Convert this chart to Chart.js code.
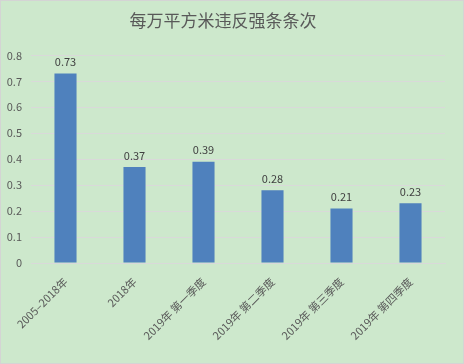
<!DOCTYPE html>
<html>
<head>
<meta charset="utf-8">
<script src="https://cdn.jsdelivr.net/npm/chart.js@4"></script>
<style>
  body { margin: 0; }
  #wrap {
    width: 464px; height: 364px; box-sizing: border-box;
    border: 1px solid #d4d4d4; background: #cde8cc;
  }
</style>
</head>
<body>
<div id="wrap"><canvas id="myChart" width="462" height="362"></canvas></div>
<script>
const categories = [
  '2005–2018年',
  '2018年',
  '2019年 第一季度',
  '2019年 第二季度',
  '2019年 第三季度',
  '2019年 第四季度'
];
const values = [0.73, 0.37, 0.39, 0.28, 0.21, 0.23];
const yTicks = [0, 0.1, 0.2, 0.3, 0.4, 0.5, 0.6, 0.7, 0.8];

const fontFamily = '"Noto Sans CJK SC", "Noto Sans", sans-serif';
const textColor = '#595959';

// value labels above each bar
const barLabels = {
  id: 'barLabels',
  afterDatasetsDraw(chart) {
    const ctx = chart.ctx;
    ctx.save();
    ctx.font = '11px ' + fontFamily;
    ctx.fillStyle = '#404040';
    ctx.textAlign = 'center';
    ctx.textBaseline = 'bottom';
    chart.getDatasetMeta(0).data.forEach((bar, i) => {
      ctx.fillText(values[i].toFixed(2), bar.x, bar.y - 6);
    });
    ctx.restore();
  }
};

const config = {
  type: 'bar',
  data: {
    labels: categories,
    datasets: [{
      data: values,
      backgroundColor: '#4f81bd',
      barPercentage: 0.32,
      categoryPercentage: 1
    }]
  },
  options: {
    responsive: false,
    animation: false,
    layout: { padding: { top: 0, right: 18, bottom: 0, left: 0 } },
    plugins: {
      legend: { display: false },
      tooltip: { enabled: false },
      title: {
        display: true,
        text: '每万平方米违反强条条次',
        color: textColor,
        font: { family: fontFamily, size: 17, weight: 'normal' },
        padding: { top: 9, bottom: 25 }
      }
    },
    scales: {
      x: {
        grid: { display: false },
        border: { display: true, color: '#d9d9d9' },
        ticks: {
          color: textColor,
          font: { family: fontFamily, size: 11 },
          minRotation: 45,
          maxRotation: 45,
          autoSkip: false,
          padding: 4
        },
        afterFit(scale) { scale.height = 100; }
      },
      y: {
        min: 0,
        max: 0.8,
        grid: { color: '#d9d9d9', drawTicks: false },
        border: { display: false },
        afterBuildTicks(scale) { scale.ticks = yTicks.map(v => ({ value: v })); },
        ticks: {
          color: textColor,
          font: { family: fontFamily, size: 11 },
          padding: 9,
          callback: v => String(Math.round(v * 10) / 10)
        },
        afterFit(scale) { scale.width = 30; }
      }
    }
  },
  plugins: [barLabels]
};

const myChart = new Chart(document.getElementById('myChart'), config);
</script>
</body>
</html>
